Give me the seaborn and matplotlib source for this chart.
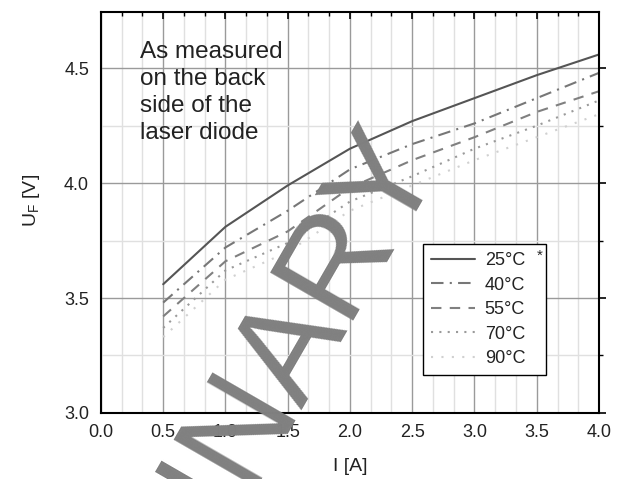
import numpy as np
import pandas as pd
import matplotlib
matplotlib.use("Agg")
import matplotlib.pyplot as plt
import seaborn as sns
from matplotlib.ticker import MultipleLocator
from matplotlib.patches import Rectangle

# Forward voltage vs current
current = [0.5, 1.0, 1.5, 2.0, 2.5, 3.0, 3.5, 4.0]
uf_25 = [3.56, 3.81, 3.99, 4.15, 4.27, 4.37, 4.47, 4.56]
uf_40 = [3.48, 3.72, 3.88, 4.06, 4.17, 4.26, 4.37, 4.48]
uf_55 = [3.42, 3.66, 3.79, 3.98, 4.10, 4.20, 4.31, 4.40]
uf_70 = [3.37, 3.62, 3.74, 3.92, 4.03, 4.15, 4.25, 4.36]
uf_90 = [3.33, 3.58, 3.70, 3.88, 3.99, 4.10, 4.20, 4.30]
temps = ["25°C", "40°C", "55°C", "70°C", "90°C"]

df = pd.DataFrame({
    "I": current * 5,
    "UF": uf_25 + uf_40 + uf_55 + uf_70 + uf_90,
    "Temp": [t for t in temps for _ in current],
})

sns.set_style("white")
plt.rcParams['font.family'] = ['Liberation Sans', 'DejaVu Sans']
plt.rcParams['mathtext.fontset'] = 'custom'
plt.rcParams['mathtext.rm'] = 'Liberation Sans'

colors = {"25°C": "#555555", "40°C": "#777777", "55°C": "#808080",
          "70°C": "#9a9a9a", "90°C": "#d0d0d0"}
dashes = {"25°C": "", "40°C": (6, 3, 1, 3), "55°C": (5, 4),
          "70°C": (1, 3), "90°C": (1, 4)}

fig = plt.figure(figsize=(6.23, 4.79), dpi=100)
ax = fig.add_axes([0.162, 0.138, 0.7995, 0.837])

sns.lineplot(data=df, x="I", y="UF", hue="Temp", style="Temp",
             palette=colors, dashes=dashes, linewidth=1.5, ax=ax)

ax.set_xlim(0, 4)
ax.set_ylim(3.0, 4.745)
ax.xaxis.set_major_locator(MultipleLocator(0.5))
ax.xaxis.set_minor_locator(MultipleLocator(0.5 / 3))
ax.yaxis.set_major_locator(MultipleLocator(0.5))
ax.yaxis.set_minor_locator(MultipleLocator(0.25))
ax.grid(True, which="major", color="#9a9a9a", linewidth=1.0)
ax.grid(True, which="minor", color="#e0e0e0", linewidth=1.0)
ax.set_axisbelow(True)

for s in ax.spines.values():
    s.set_color("black")
    s.set_linewidth(1.5)
ax.tick_params(which="both", direction="in", top=True, right=True,
               labelsize=13, color="black", labelcolor="#222222")
ax.tick_params(which="major", length=5, width=1.2)
ax.tick_params(which="minor", length=3, width=1.0)
ax.tick_params(axis="x", which="major", pad=8)
ax.tick_params(axis="y", which="both", direction="out")

ax.set_xlabel("I [A]", fontsize=14, labelpad=12, color="#222222")
ax.set_ylabel("U$_\\mathrm{F}$ [V]", fontsize=14, labelpad=16, color="#222222")
ax.yaxis.label.set_y(0.53)

ax.text(0.31, 4.62, "As measured\non the back\nside of the\nlaser diode",
        fontsize=17.5, va="top", ha="left", linespacing=1.3, color="#222222")

# legend box drawn a bit wider than the entries, with the asterisk inside
ax.add_patch(Rectangle((0.6466, 0.0948), 0.247, 0.327, transform=ax.transAxes,
                       facecolor="white", edgecolor="black", linewidth=1.0,
                       zorder=4))
leg = ax.legend(title=None, loc="lower left", bbox_to_anchor=(0.6466, 0.0948),
                fontsize=13, frameon=False, handlelength=2.45,
                borderpad=0.42, labelspacing=0.42, handletextpad=0.55,
                borderaxespad=0)
leg.set_zorder(5)
for t in leg.get_texts():
    t.set_color("#222222")
ax.text(0.875, 0.41, "*", transform=ax.transAxes, fontsize=11,
        ha="left", va="top", zorder=6)

# preliminary watermark
fig.text(0.703, 0.678, "PRELIMINARY", fontsize=100, color="#808080",
         rotation=60, rotation_mode="anchor", ha="right", va="baseline",
         zorder=10)

fig.savefig("out.png", dpi=100)
